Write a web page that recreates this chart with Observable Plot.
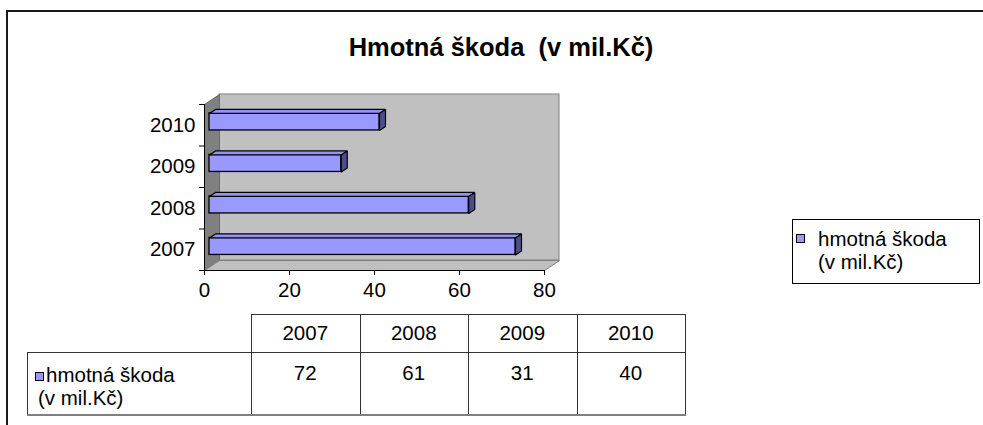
<!DOCTYPE html>
<html>
<head>
<meta charset="utf-8">
<script src="https://cdn.jsdelivr.net/npm/d3@7"></script>
<script src="https://cdn.jsdelivr.net/npm/@observablehq/plot@0.6"></script>
<style>
  html, body { margin: 0; padding: 0; background: #fff; }
  #root { position: relative; width: 983px; height: 425px; overflow: hidden;
          font-family: "Liberation Sans", Arial, sans-serif; color: #000; }
  #frame { position: absolute; left: 6px; top: 10px; width: 1000px; height: 430px;
           border-left: 2px solid #1a1a1a; border-top: 2px solid #1a1a1a; }
  #title { position: absolute; left: 501px; top: 32px; transform: translateX(-50%);
           font-weight: bold; font-size: 25.5px; white-space: pre; line-height: 30px; }
  #chart { position: absolute; left: 0; top: 0; }
  .hl { position: absolute; height: 1px; background: #333; }
  .vl { position: absolute; width: 1px; background: #333; }
  .txt { position: absolute; font-size: 20.5px; line-height: 22px; white-space: nowrap; }
  .sq { position: absolute; width: 7px; height: 7px; background: #9999ff; border: 1px solid #000; }
  #legend { position: absolute; left: 792px; top: 219px; width: 186px; height: 63px; border: 1px solid #000; }
</style>
</head>
<body>
<div id="root">
  <div id="frame"></div>
  <div id="title"></div>
  <div id="chart"></div>
  <div id="table"></div>
  <div id="legend"></div>
</div>
<script>
// ---- data ----
const years = ["2007", "2008", "2009", "2010"];
const values = [72, 61, 31, 40];
const xTicks = [0, 20, 40, 60, 80];
const seriesName = "hmotná škoda";
const seriesUnit = "(v mil.Kč)";
const chartTitle = "Hmotná škoda  (v mil.Kč)";

document.getElementById("title").textContent = chartTitle;

const rows = years.map((year, i) => ({year, value: values[i], i}));
const xMax = xTicks[xTicks.length - 1];
const nCat = years.length;

// pixel geometry of the 3-D box (styling)
const W = 600, Hh = 310, mL = 204, mR = 56, mT = 104, mB = 40;
const kx = (W - mL - mR) / xMax;   // px per x unit
const ky = (Hh - mT - mB) / nCat;  // px per category
const DX = 15 / kx, DY = 10 / ky;  // wall depth in data units
const BX = 6 / kx, BY = 4 / ky;    // bar depth in data units
const HB = 8.5 / ky;               // half bar height
const barDx = 5, barDy = -3.3;

const sideWall = [
  {x: 0, y: 0}, {x: 0, y: nCat}, {x: DX, y: nCat + DY}, {x: DX, y: DY}, {x: 0, y: 0}
];
const floor = [
  {x: 0, y: 0}, {x: xMax, y: 0}, {x: xMax + DX, y: DY}, {x: DX, y: DY}, {x: 0, y: 0}
];
const topFaces = rows.flatMap(d => {
  const yt = d.i + 0.5 + HB;
  return [
    {year: d.year, x: 0, y: yt}, {year: d.year, x: d.value, y: yt},
    {year: d.year, x: d.value + BX, y: yt + BY}, {year: d.year, x: BX, y: yt + BY},
    {year: d.year, x: 0, y: yt}
  ];
});
const endFaces = rows.flatMap(d => {
  const yt = d.i + 0.5 + HB, yb = d.i + 0.5 - HB;
  return [
    {year: d.year, x: d.value, y: yb}, {year: d.year, x: d.value, y: yt},
    {year: d.year, x: d.value + BX, y: yt + BY}, {year: d.year, x: d.value + BX, y: yb + BY},
    {year: d.year, x: d.value, y: yb}
  ];
});

const chart = Plot.plot({
  width: W, height: Hh,
  marginLeft: mL, marginRight: mR, marginTop: mT, marginBottom: mB,
  style: {fontFamily: "'Liberation Sans', Arial, sans-serif", fontSize: "20.5px", overflow: "visible", background: "transparent"},
  x: {domain: [0, xMax], axis: null},
  y: {domain: [0, nCat], axis: null},
  marks: [
    Plot.rect([{}], {x1: 0, x2: xMax, y1: 0, y2: nCat, dx: 15, dy: -10, fill: "#c0c0c0", stroke: "#808080", strokeWidth: 1}),
    Plot.line(sideWall, {x: "x", y: "y", fill: "#808080", stroke: "#6a6a6a", strokeWidth: 1, curve: "linear"}),
    Plot.line(floor, {x: "x", y: "y", fill: "#c0c0c0", stroke: "#808080", strokeWidth: 1, curve: "linear"}),
    Plot.ruleX([0], {y1: 0, y2: nCat, stroke: "#000", strokeWidth: 1}),
    Plot.ruleY([0], {x1: 0, x2: xMax, stroke: "#000", strokeWidth: 1}),
    Plot.axisX({ticks: xTicks, tickSize: 5, tickPadding: 7, label: null, stroke: "#000"}),
    Plot.axisY({ticks: d3.range(nCat + 1), tickSize: 5, tickFormat: () => "", label: null, stroke: "#000"}),
    Plot.axisY({ticks: years.map((_, i) => i + 0.5), tickSize: 0, tickPadding: 9, tickFormat: d => years[Math.floor(d)], label: null}),
    Plot.rect(rows, {x1: 0, x2: "value", y1: d => d.i + 0.5 - HB, y2: d => d.i + 0.5 + HB, dx: barDx, dy: barDy, fill: "#9999ff", stroke: "#000", strokeWidth: 1.3}),
    Plot.line(topFaces, {x: "x", y: "y", z: "year", dx: barDx, dy: barDy, fill: "#9393f5", stroke: "#000", strokeWidth: 1.2, curve: "linear", strokeLinejoin: "miter"}),
    Plot.line(endFaces, {x: "x", y: "y", z: "year", dx: barDx, dy: barDy, fill: "#4d4d8c", stroke: "#000", strokeWidth: 1.2, curve: "linear", strokeLinejoin: "miter"})
  ]
});
document.getElementById("chart").appendChild(chart);

// ---- data table ----
const table = document.getElementById("table");
function add(cls, css, text) {
  const el = document.createElement("div");
  el.className = cls;
  Object.assign(el.style, css);
  if (text != null) el.textContent = text;
  table.appendChild(el);
  return el;
}
const tx0 = 251, tColW = 108.5, tTop = 314, tMid = 352, tBot = 414, tLeft = 27;
const tRight = tx0 + tColW * years.length;
add("hl", {left: tx0 + "px", top: tTop + "px", width: (tRight - tx0) + "px"});
add("hl", {left: tLeft + "px", top: tMid + "px", width: (tRight - tLeft + 1) + "px"});
add("hl", {left: tLeft + "px", top: tBot + "px", width: (tRight - tLeft + 1) + "px", height: "2px", background: "#808080"});
add("vl", {left: tLeft + "px", top: tMid + "px", height: (tBot - tMid) + "px"});
for (let c = 0; c <= years.length; c++) {
  add("vl", {left: Math.round(tx0 + c * tColW) + "px", top: tTop + "px", height: (tBot - tTop) + "px"});
}
years.forEach((y, c) => {
  const l = tx0 + c * tColW;
  add("txt", {left: l + "px", width: tColW + "px", textAlign: "center", top: (tTop + 8) + "px"}, y);
  add("txt", {left: l + "px", width: tColW + "px", textAlign: "center", top: (tMid + 10) + "px"}, String(values[c]));
});
add("sq", {left: "35px", top: "372px"});
add("txt", {left: "46px", top: "364px"}, seriesName);
add("txt", {left: "38px", top: "387px"}, seriesUnit);

// ---- legend ----
const legend = document.getElementById("legend");
legend.innerHTML = "";
const lsq = document.createElement("div");
lsq.className = "sq"; Object.assign(lsq.style, {left: "3px", top: "14px"});
legend.appendChild(lsq);
const l1 = document.createElement("div");
l1.className = "txt"; Object.assign(l1.style, {left: "25px", top: "8px"}); l1.textContent = seriesName;
const l2 = document.createElement("div");
l2.className = "txt"; Object.assign(l2.style, {left: "25px", top: "31px"}); l2.textContent = seriesUnit;
legend.appendChild(l1); legend.appendChild(l2);
</script>
</body>
</html>
